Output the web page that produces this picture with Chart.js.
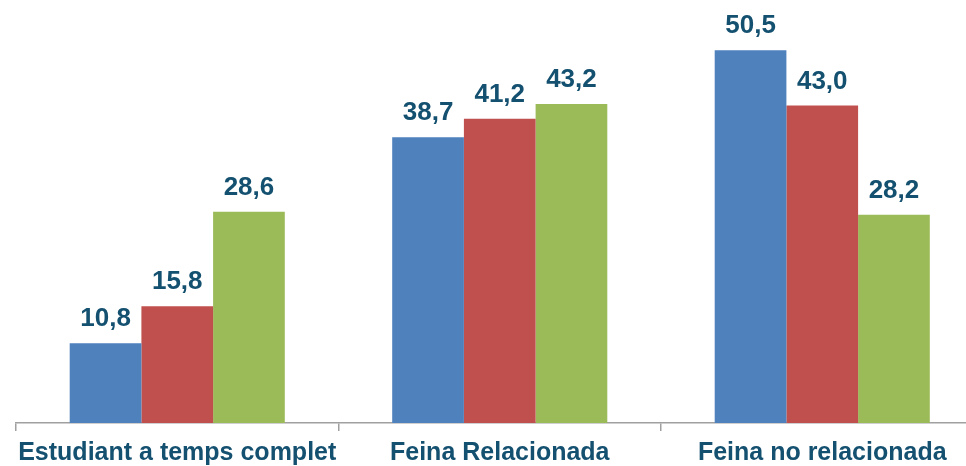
<!DOCTYPE html>
<html>
<head>
<meta charset="utf-8">
<script src="https://cdn.jsdelivr.net/npm/chart.js@4"></script>
<style>
  html, body { margin: 0; padding: 0; background: #fff; overflow: hidden; }
  #wrap { width: 1000px; height: 466px; }
</style>
</head>
<body>
<div id="wrap"><canvas id="chart"></canvas></div>
<script>
// chart values
const categories = ['Estudiant a temps complet', 'Feina Relacionada', 'Feina no relacionada'];
const serie1 = [10.8, 38.7, 50.5];
const serie2 = [15.8, 41.2, 43.0];
const serie3 = [28.6, 43.2, 28.2];

const labelColor = '#14506f';

// value labels above the bars, with comma decimals
const valueLabels = {
    id: 'valueLabels',
    afterDatasetsDraw(chart) {
        const ctx = chart.ctx;
        ctx.save();
        ctx.font = 'bold 26px "Liberation Sans", Arial, sans-serif';
        ctx.fillStyle = labelColor;
        ctx.textAlign = 'center';
        ctx.textBaseline = 'alphabetic';
        chart.data.datasets.forEach((ds, i) => {
            chart.getDatasetMeta(i).data.forEach((bar, j) => {
                const txt = ds.data[j].toFixed(1).replace('.', ',');
                ctx.fillText(txt, bar.x, bar.y - 17);
            });
        });
        ctx.restore();
    }
};

new Chart(document.getElementById('chart'), {
    type: 'bar',
    data: {
        labels: categories,
        datasets: [
            { data: serie1, backgroundColor: '#4f81bd' },
            { data: serie2, backgroundColor: '#c0504d' },
            { data: serie3, backgroundColor: '#9bbb59' }
        ]
    },
    options: {
        responsive: true,
        maintainAspectRatio: false,
        animation: false,
        layout: { padding: { left: 16, right: 16.5, top: 0, bottom: 0 } },
        datasets: { bar: { categoryPercentage: 0.667, barPercentage: 1.0 } },
        plugins: {
            legend: { display: false },
            tooltip: { enabled: false }
        },
        scales: {
            x: {
                grid: {
                    offset: true,
                    drawOnChartArea: false,
                    drawTicks: true,
                    tickLength: 8,
                    color: '#a0a0a0',
                    lineWidth: 1.5
                },
                border: { color: '#a0a0a0', width: 1.5 },
                ticks: {
                    color: labelColor,
                    font: { family: '"Liberation Sans", Arial, sans-serif', size: 25, weight: 'bold' },
                    padding: 7,
                    maxRotation: 0
                },
                afterFit: function(scale) { scale.height = 43; }
            },
            y: {
                display: false,
                min: 0,
                max: 57.3
            }
        }
    },
    plugins: [valueLabels]
});
</script>
</body>
</html>
